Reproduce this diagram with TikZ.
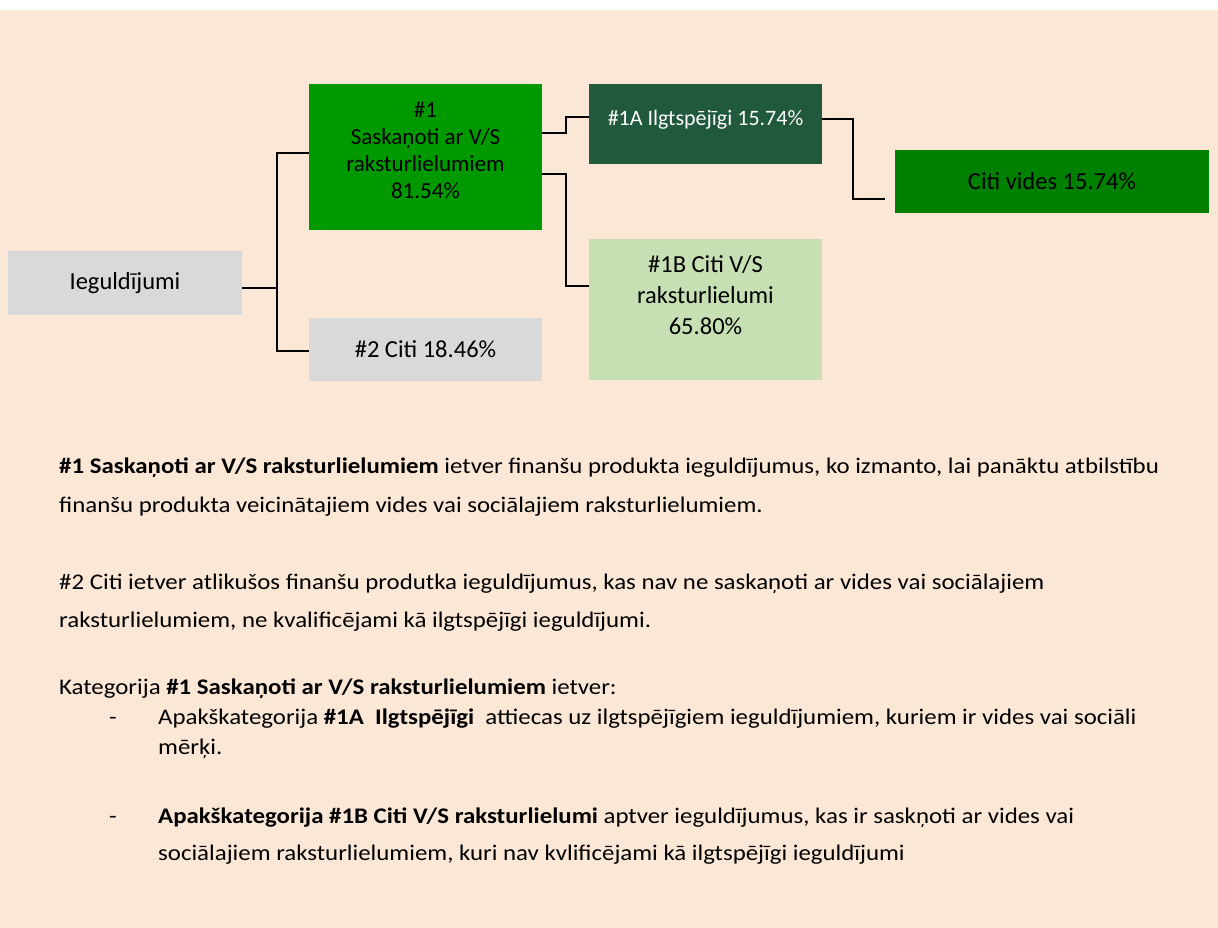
\documentclass[tikz,border=0pt]{standalone}
\usepackage{fontspec}
\setmainfont{Carlito}
\newfontfamily\bodyfont[FakeStretch=1.115]{Carlito}
\definecolor{bg}{HTML}{FBE7D6}
\definecolor{grey}{HTML}{D9D9D9}
\definecolor{gA}{HTML}{009900}
\definecolor{gDark}{HTML}{21593C}
\definecolor{gMid}{HTML}{008000}
\definecolor{gLight}{HTML}{C6E0B4}
\begin{document}
\begin{tikzpicture}[x=1pt,y=-1pt,
  box/.style={draw=none,inner sep=0pt,align=center,font=\fontsize{24.5}{29}\selectfont},
  boxtxt/.style={inner sep=0pt,align=center},
  conn/.style={draw=black,line width=1.6pt},
  connthick/.style={draw=black,line width=2.6pt},
  bodytxt/.style={anchor=base west,inner sep=0pt,font=\bodyfont\fontsize{22.3}{26}\selectfont}]
\useasboundingbox (0,0) rectangle (1218,928);
\fill[white] (0,0) rectangle (1218,928);
\fill[bg] (0,10) rectangle (1218,928);
% boxes
\node[box,fill=grey,minimum width=234pt,minimum height=64pt] (ieg) at (125,283) {Ieguldījumi};
\node[box,fill=gA,minimum width=233pt,minimum height=146pt] (n1) at (425.5,157) {};
\node[boxtxt,font=\fontsize{23}{27}\selectfont] (t1) at (425.5,150) {\#1\\Saskaņoti ar V/S\\raksturlielumiem\\81.54\%};
\node[box,fill=grey,minimum width=233pt,minimum height=63pt] (n2) at (425.5,349.5) {\#2 Citi 18.46\%};
\node[box,fill=gDark,minimum width=233pt,minimum height=80pt] (n1a) at (705.5,124) {};
\node[boxtxt,text=white,font=\fontsize{22}{27}\selectfont] (t1a) at (705.5,120) {\#1A Ilgtspējīgi 15.74\%};
\node[box,fill=gLight,minimum width=233pt,minimum height=141pt] (n1b) at (705.5,309.5) {};
\node[boxtxt,font=\fontsize{24.5}{31}\selectfont] (t1b) at (705.5,295) {\#1B Citi V/S\\raksturlielumi\\65.80\%};
\node[box,fill=gMid,minimum width=314pt,minimum height=63pt] (cv) at (1052,181.5) {Citi vides 15.74\%};
% connectors
\coordinate (j1) at (277,288);
\draw[connthick] ([yshift=-5pt]ieg.east) -- (j1);
\draw[conn] ([yshift=4pt]n1.west) -| (j1) |- ([yshift=-1.5pt]n2.west);
\draw[conn] ([yshift=24pt]n1.east) -- ++(24,0) |- ([yshift=7pt]n1a.west);
\draw[conn] ([yshift=-17pt]n1.east) -- ++(24,0) |- ([yshift=23.5pt]n1b.west);
\draw[conn] ([yshift=5pt]n1a.east) -- ++(31,0) |- ([xshift=-10pt,yshift=-17.5pt]cv.west);
% text
\node[bodytxt] (l1) at (59,473) {\textbf{\#1 Saskaņoti ar V/S raksturlielumiem} ietver finanšu produkta ieguldījumus, ko izmanto, lai panāktu atbilstību};
\node[bodytxt] (l2) at (59,512) {finanšu produkta veicinātajiem vides vai sociālajiem raksturlielumiem.};
\node[bodytxt] (l3) at (59,589) {\#2 Citi ietver atlikušos finanšu produtka ieguldījumus, kas nav ne saskaņoti ar vides vai sociālajiem};
\node[bodytxt] (l4) at (59,627) {raksturlielumiem, ne kvalificējami kā ilgtspējīgi ieguldījumi.};
\node[bodytxt] (l5) at (59,694) {Kategorija \textbf{\#1 Saskaņoti ar V/S raksturlielumiem} ietver:};
\node[bodytxt] (d1) at (109,724) {-};
\node[bodytxt] (l6) at (158,724) {Apakškategorija \textbf{\#1A\ \ Ilgtspējīgi}\ \ attiecas uz ilgtspējīgiem ieguldījumiem, kuriem ir vides vai sociāli};
\node[bodytxt] (l7) at (158,754) {mērķi.};
\node[bodytxt] (d2) at (109,823) {-};
\node[bodytxt] (l8) at (158,823) {\textbf{Apakškategorija \#1B Citi V/S raksturlielumi} aptver ieguldījumus, kas ir saskņoti ar vides vai};
\node[bodytxt] (l9) at (158,860) {sociālajiem raksturlielumiem, kuri nav kvlificējami kā ilgtspējīgi ieguldījumi};
\end{tikzpicture}
\end{document}
